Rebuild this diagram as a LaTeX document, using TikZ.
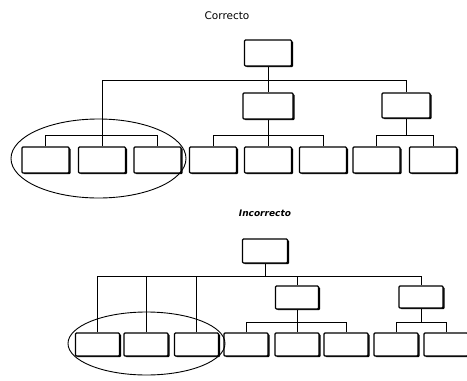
\documentclass[tikz,border=0pt]{standalone}
\usepackage{fontspec}
\setmainfont{DejaVu Sans}
\usetikzlibrary{shadows,backgrounds,shapes.geometric}
\begin{document}
\begin{tikzpicture}[x=1pt,y=-1pt,
  bx/.style={draw=black, fill=white, line width=1.3pt, rounded corners=1pt, inner sep=0pt,
    drop shadow={shadow xshift=1.5pt, shadow yshift=-1.2pt, fill=black, opacity=1}},
  ln/.style={draw=black, line width=1pt},
  grp/.style={draw=black, line width=0.9pt, ellipse, inner sep=0pt}]
\useasboundingbox (0,0) rectangle (467,381);
\clip (0,0) rectangle (467,381);
% ---------- Correcto ----------
\node[font=\fontsize{10.5}{12}\selectfont] (tc) at (227,16) {Correcto};
\node[bx, minimum width=47pt, minimum height=26pt] (t0) at (268,53) {};
\node[bx, minimum width=50pt, minimum height=26pt] (a) at (268,106) {};
\node[bx, minimum width=48pt, minimum height=25pt] (b) at (406,105.5) {};
\foreach \n/\x in {1/45.5,2/102,3/157.5,4/213,5/268,6/323,7/376.5,8/433}
  \node[bx, minimum width=47pt, minimum height=26pt] (c\n) at (\x,160) {};
\coordinate (bus1) at (0,80);
\coordinate (sb1) at (0,135);
\begin{scope}[on background layer]
\draw[ln] (t0.south) -- (a.north);
\draw[ln] (c2.north) |- (bus1 -| b.north) -- (b.north);
\draw[ln] (c1.north) |- (sb1 -| c3.north) -- (c3.north);
\draw[ln] (a.south) -- (c5.north);
\draw[ln] (c4.north) |- (sb1 -| c6.north) -- (c6.north);
\draw[ln] (b.south) -- (b.south |- sb1);
\draw[ln] (c7.north) |- (sb1 -| c8.north) -- (c8.north);
\end{scope}
\node[grp, minimum width=175pt, minimum height=79pt] (e1) at (98.5,158.5) {};
% ---------- Incorrecto ----------
\node[font=\fontsize{9}{11}\selectfont\bfseries\itshape] (ti) at (265,213) {Incorrecto};
\node[bx, minimum width=45pt, minimum height=24pt] (u0) at (265,251) {};
\node[bx, minimum width=43pt, minimum height=23pt] (p) at (297,297.5) {};
\node[bx, minimum width=44pt, minimum height=22pt] (q) at (421,297) {};
\foreach \n/\x in {1/97.5,2/146,3/196.5,4/246,5/297,6/346,7/396,8/446}
  \node[bx, minimum width=44pt, minimum height=23pt] (d\n) at (\x,344.5) {};
\coordinate (bus2) at (0,276);
\coordinate (sb2) at (0,322);
\begin{scope}[on background layer]
\draw[ln] (u0.south) -- (u0.south |- bus2);
\draw[ln] (d1.north) |- (bus2 -| q.north) -- (q.north);
\draw[ln] (d2.north) -- (d2.north |- bus2);
\draw[ln] (d3.north) -- (d3.north |- bus2);
\draw[ln] (p.north) -- (p.north |- bus2);
\draw[ln] (p.south) -- (d5.north);
\draw[ln] (d4.north) |- (sb2 -| d6.north) -- (d6.north);
\draw[ln] (q.south) -- (q.south |- sb2);
\draw[ln] (d7.north) |- (sb2 -| d8.north) -- (d8.north);
\end{scope}
\node[grp, minimum width=157pt, minimum height=63pt] (e2) at (146.5,343.5) {};
\end{tikzpicture}
\end{document}
